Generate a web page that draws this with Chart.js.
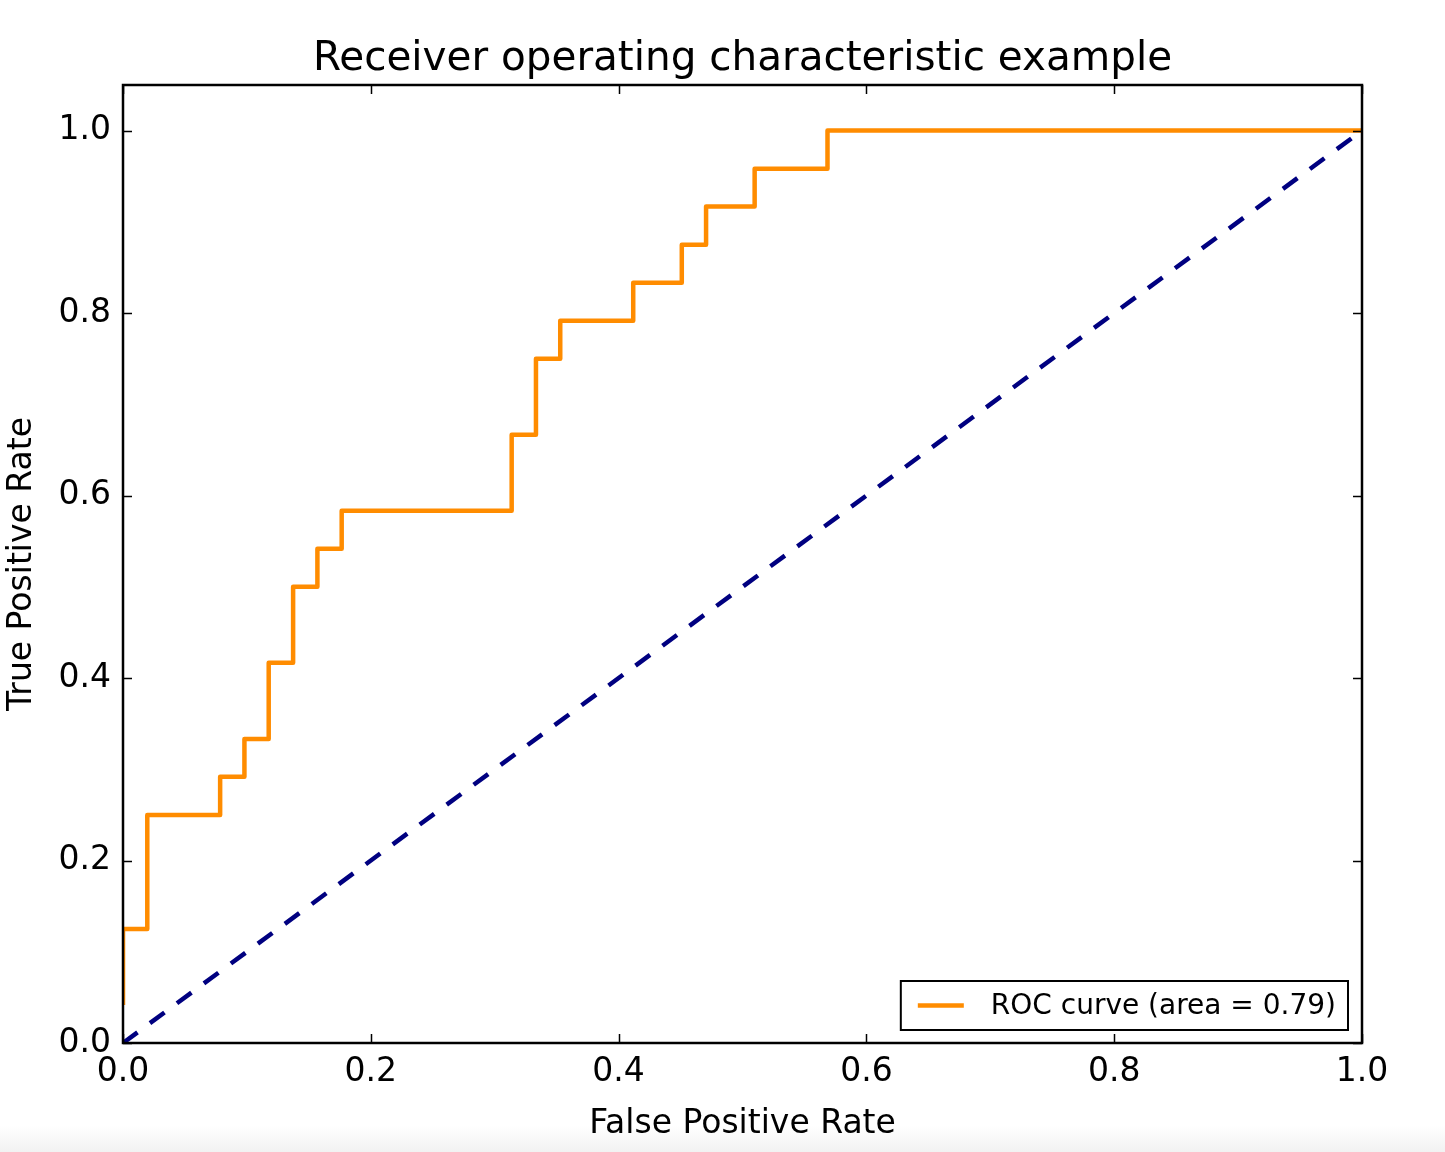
<!DOCTYPE html>
<html>
<head>
<meta charset="utf-8">
<script src="https://cdn.jsdelivr.net/npm/chart.js@4/dist/chart.umd.min.js"></script>
<style>
  html, body { margin: 0; padding: 0; }
  body { width: 1445px; height: 1152px; background: linear-gradient(to bottom, #fff 0, #fff 1126px, #f2f2f2 1152px); }
  #wrap { width: 1445px; height: 1152px; }
</style>
</head>
<body>
<div id="wrap"><canvas id="roc"></canvas></div>
<script>
// Dados
const fpr = [0, 0, 0.0196, 0.0196, 0.0784, 0.0784, 0.098, 0.098, 0.1176, 0.1176, 0.1373, 0.1373,
  0.1569, 0.1569, 0.1765, 0.1765, 0.3137, 0.3137, 0.3333, 0.3333, 0.3529, 0.3529, 0.4118, 0.4118,
  0.451, 0.451, 0.4706, 0.4706, 0.5098, 0.5098, 0.5686, 0.5686, 1.0];
const tpr = [0.0417, 0.125, 0.125, 0.25, 0.25, 0.2917, 0.2917, 0.3333, 0.3333, 0.4167, 0.4167, 0.5,
  0.5, 0.5417, 0.5417, 0.5833, 0.5833, 0.6667, 0.6667, 0.75, 0.75, 0.7917, 0.7917, 0.8333,
  0.8333, 0.875, 0.875, 0.9167, 0.9167, 0.9583, 0.9583, 1.0, 1.0];
const chanceX = [0, 1];
const chanceY = [0, 1];
const rocArea = 0.79;
const xTicks = [0, 0.2, 0.4, 0.6, 0.8, 1.0];
const yTicks = [0, 0.2, 0.4, 0.6, 0.8, 1.0];
const chartTitle = "Receiver operating characteristic example";

const FONT = "'DejaVu Sans', sans-serif";

// Título centrado na área do gráfico, moldura, ticks internos e legenda (estilo matplotlib)
const framePlugin = {
  id: "frame",
  afterDatasetsDraw(chart) {
    const { ctx, chartArea: a, scales } = chart;
    ctx.save();

    // título
    ctx.fillStyle = "#000";
    ctx.font = "40.5px " + FONT;
    ctx.textAlign = "center";
    ctx.textBaseline = "alphabetic";
    ctx.fillText(chartTitle, (a.left + a.right) / 2, 70);

    ctx.strokeStyle = "#000";
    ctx.lineWidth = 1.5;
    const t = 9;
    xTicks.forEach(v => {
      const px = Math.round(scales.x.getPixelForValue(v)) + 0.5;
      ctx.beginPath();
      ctx.moveTo(px, a.bottom); ctx.lineTo(px, a.bottom - t);
      ctx.moveTo(px, a.top); ctx.lineTo(px, a.top + t);
      ctx.stroke();
    });
    yTicks.forEach(v => {
      const py = Math.round(scales.y.getPixelForValue(v)) + 0.5;
      ctx.beginPath();
      ctx.moveTo(a.left, py); ctx.lineTo(a.left + t, py);
      ctx.moveTo(a.right, py); ctx.lineTo(a.right - t, py);
      ctx.stroke();
    });
    ctx.lineWidth = 2.5;
    ctx.strokeRect(a.left, a.top, a.right - a.left, a.bottom - a.top);

    // legenda
    const ds = chart.data.datasets[0];
    ctx.font = "28px " + FONT;
    ctx.textAlign = "left";
    const tw = ctx.measureText(ds.label).width;
    const right = a.right - 14, bottom = a.bottom - 13;
    const left = right - (90 + tw + 12), top = bottom - 49;
    ctx.fillStyle = "#fff";
    ctx.fillRect(left, top, right - left, bottom - top);
    ctx.lineWidth = 2;
    ctx.strokeRect(left, top, right - left, bottom - top);
    const cy = (top + bottom) / 2;
    ctx.strokeStyle = ds.borderColor;
    ctx.lineWidth = ds.borderWidth;
    ctx.beginPath();
    ctx.moveTo(left + 17, cy); ctx.lineTo(left + 63, cy);
    ctx.stroke();
    ctx.fillStyle = "#000";
    ctx.textBaseline = "middle";
    ctx.fillText(ds.label, left + 90, cy + 1);
    ctx.restore();
  }
};

new Chart(document.getElementById("roc"), {
  type: "scatter",
  data: {
    datasets: [
      {
        label: "ROC curve (area = " + rocArea.toFixed(2) + ")",
        data: fpr.map((x, i) => ({ x, y: tpr[i] })),
        showLine: true,
        borderColor: "#ff8c00",
        borderWidth: 4.5,
        borderJoinStyle: "round",
        pointRadius: 0,
        tension: 0
      },
      {
        label: "chance",
        data: chanceX.map((x, i) => ({ x, y: chanceY[i] })),
        showLine: true,
        borderColor: "#000080",
        borderWidth: 4.5,
        borderDash: [18, 15.5],
        pointRadius: 0
      }
    ]
  },
  options: {
    responsive: true,
    maintainAspectRatio: false,
    animation: false,
    layout: { padding: { left: 0, right: 83, top: 85, bottom: 0 } },
    plugins: {
      legend: { display: false },
      tooltip: { enabled: false },
      title: { display: false }
    },
    scales: {
      x: {
        type: "linear",
        min: 0,
        max: 1,
        afterFit: s => { s.height = 109; },
        afterBuildTicks: s => { s.ticks = xTicks.map(v => ({ value: v })); },
        grid: { display: false, drawTicks: false },
        border: { display: false },
        ticks: {
          color: "#000",
          padding: 10,
          maxRotation: 0,
          font: { family: FONT, size: 33 },
          callback: v => v.toFixed(1)
        },
        title: {
          display: true,
          text: "False Positive Rate",
          color: "#000",
          font: { family: FONT, size: 33 },
          padding: { top: 0, bottom: 8 }
        }
      },
      y: {
        type: "linear",
        min: 0,
        max: 1.05,
        afterFit: s => { s.width = 123; },
        afterBuildTicks: s => { s.ticks = yTicks.map(v => ({ value: v })); },
        grid: { display: false, drawTicks: false },
        border: { display: false },
        ticks: {
          color: "#000",
          padding: 12,
          font: { family: FONT, size: 33 },
          callback: v => v.toFixed(1)
        },
        title: {
          display: true,
          text: "True Positive Rate",
          color: "#000",
          font: { family: FONT, size: 33 },
          padding: { top: 3, bottom: 0 }
        }
      }
    }
  },
  plugins: [framePlugin]
});
</script>
</body>
</html>
